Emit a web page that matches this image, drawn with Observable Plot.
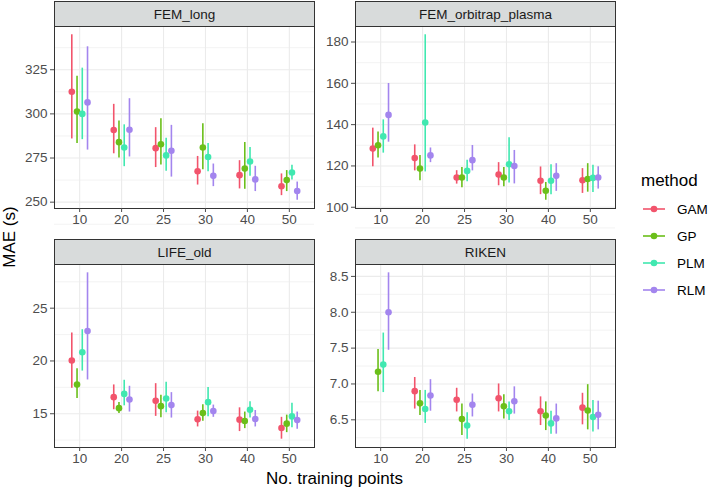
<!DOCTYPE html>
<html>
<head>
<meta charset="utf-8">
<script src="https://cdn.jsdelivr.net/npm/d3@7"></script>
<script src="https://cdn.jsdelivr.net/npm/@observablehq/plot@0.6"></script>
<style>
  html, body { margin: 0; padding: 0; background: #fff; }
  #chart { position: relative; width: 709px; height: 491px; font-family: "Liberation Sans", Arial, sans-serif; overflow: hidden; }
  .abs { position: absolute; }
  .strip { position: absolute; background: #D8DBDB; border: 1px solid #333; box-sizing: border-box; color: #1A1A1A; font-size: 13.5px; display: flex; align-items: center; justify-content: center; }
  .panel svg { overflow: visible; }
</style>
</head>
<body>
<div id="chart"></div>
<script>
// ---------- data ----------
const methods = ["GAM", "GP", "PLM", "RLM"];
const trainingPoints = ["10", "20", "25", "30", "40", "50"];
const colors = ["#F2546C", "#6BBF1A", "#40E8B0", "#A385EE"];

// rows: GAM, GP, PLM, RLM ; columns: trainingPoints
const femLongMean = [
  [312.5, 290.9, 280.6, 267.5, 265.3, 259.0],
  [301.3, 284.0, 282.8, 281.0, 269.0, 262.5],
  [300.0, 281.0, 276.5, 275.6, 273.0, 266.8],
  [306.5, 291.0, 279.1, 264.9, 262.9, 256.3]
];
const femLongLow = [
  [285.8, 277.4, 269.6, 259.7, 257.5, 253.7],
  [283.2, 275.0, 271.1, 268.3, 257.3, 256.0],
  [285.4, 270.1, 267.5, 267.2, 264.7, 262.5],
  [279.5, 275.6, 264.2, 258.8, 256.0, 251.1]
];
const femLongHigh = [
  [344.8, 305.4, 292.2, 275.9, 273.5, 266.0],
  [321.3, 295.9, 297.2, 294.4, 283.8, 267.9],
  [325.9, 293.8, 286.2, 283.2, 281.0, 270.9],
  [338.0, 308.6, 293.5, 271.6, 270.3, 261.4]
];

const femOrbiMean = [
  [128.4, 123.8, 114.4, 115.8, 112.8, 113.1],
  [130.0, 118.7, 114.4, 114.4, 108.0, 113.7],
  [134.3, 141.0, 117.6, 120.8, 112.8, 114.2],
  [144.7, 125.1, 122.8, 120.0, 115.2, 114.4]
];
const femOrbiLow = [
  [119.6, 117.6, 111.2, 110.4, 106.1, 106.7],
  [123.8, 112.8, 109.4, 109.9, 103.4, 107.3],
  [126.2, 117.1, 112.3, 111.7, 106.1, 107.2],
  [131.5, 121.6, 117.6, 111.3, 107.7, 108.8]
];
const femOrbiHigh = [
  [138.3, 130.2, 117.7, 121.6, 119.5, 118.7],
  [136.4, 125.1, 119.3, 119.2, 112.0, 121.1],
  [142.3, 183.5, 122.7, 133.7, 120.6, 120.3],
  [159.9, 128.7, 129.9, 127.5, 121.1, 119.6]
];

const lifeOldMean = [
  [20.05, 16.57, 16.22, 14.47, 14.44, 13.65],
  [17.76, 15.53, 15.72, 15.06, 14.31, 14.06],
  [20.83, 16.88, 16.44, 16.10, 15.38, 14.75],
  [22.84, 16.35, 15.82, 15.25, 14.50, 14.40]
];
const lifeOldLow = [
  [17.41, 15.38, 14.75, 13.75, 13.31, 12.59],
  [16.44, 15.03, 14.62, 14.28, 13.59, 13.21],
  [19.04, 15.75, 15.09, 14.72, 14.59, 13.68],
  [18.20, 15.16, 14.59, 14.66, 13.75, 13.53]
];
const lifeOldHigh = [
  [22.65, 17.73, 17.85, 15.25, 15.56, 14.66],
  [19.26, 16.07, 16.76, 15.85, 15.16, 14.87],
  [22.96, 18.17, 17.98, 17.48, 16.13, 16.00],
  [28.35, 17.60, 17.00, 15.82, 15.31, 15.16]
];

const rikenMean = [
  [null, 6.90, 6.78, 6.80, 6.62, 6.67],
  [7.17, 6.73, 6.51, 6.69, 6.56, 6.63],
  [7.27, 6.65, 6.42, 6.62, 6.45, 6.54],
  [8.00, 6.84, 6.71, 6.76, 6.52, 6.57]
];
const rikenLow = [
  [null, 6.65, 6.61, 6.61, 6.42, 6.43],
  [6.89, 6.56, 6.28, 6.51, 6.35, 6.36],
  [6.88, 6.45, 6.23, 6.49, 6.30, 6.33],
  [7.47, 6.62, 6.54, 6.58, 6.30, 6.36]
];
const rikenHigh = [
  [null, 7.09, 6.94, 7.00, 6.82, 6.87],
  [7.48, 6.91, 6.72, 6.85, 6.75, 6.99],
  [7.71, 6.91, 6.60, 6.75, 6.62, 6.77],
  [8.55, 7.06, 6.86, 6.96, 6.72, 6.76]
];

const panelNames = ["FEM_long", "FEM_orbitrap_plasma", "LIFE_old", "RIKEN"];
const yTicks = [
  [250, 275, 300, 325],
  [100, 120, 140, 160, 180],
  [15, 20, 25],
  [6.5, 7.0, 7.5, 8.0, 8.5]
];
const yTickFormats = [d3.format("d"), d3.format("d"), d3.format("d"), d3.format(".1f")];
const xTitle = "No. training points";
const yTitle = "MAE (s)";
const legendTitle = "method";

// ---------- build ----------
const panelData = [
  [femLongMean, femLongLow, femLongHigh],
  [femOrbiMean, femOrbiLow, femOrbiHigh],
  [lifeOldMean, lifeOldLow, lifeOldHigh],
  [rikenMean, rikenLow, rikenHigh]
];

const chart = document.getElementById("chart");

// panel layout (page pixels)
const cols = [54, 355];
const rows = [{strip: 1, top: 26, bottom: 208}, {strip: 239, top: 264, bottom: 447}];
const panelW = 260;
const dodgeWidth = 0.5;

panelData.forEach(([mean, low, high], p) => {
  const col = p % 2, row = Math.floor(p / 2);
  const left = cols[col];
  const r = rows[row];
  const rows_ = [];
  methods.forEach((m, mi) => {
    trainingPoints.forEach((tp, ti) => {
      if (mean[mi][ti] == null) return;
      rows_.push({
        method: m,
        tp,
        pos: ti + (mi - (methods.length - 1) / 2) * dodgeWidth / methods.length,
        mean: mean[mi][ti],
        lo: low[mi][ti],
        hi: high[mi][ti]
      });
    });
  });
  const ymin = d3.min(rows_, d => d.lo), ymax = d3.max(rows_, d => d.hi);
  const pad = (ymax - ymin) * 0.05;
  const ticks = yTicks[p];
  const step = ticks[1] - ticks[0];
  const minor = [ticks[0] - step / 2, ...ticks.map(t => t + step / 2)];

  const mL = 54, mT = 1, mB = 30, mR = 1;
  const plot = Plot.plot({
    width: panelW + mL + mR,
    height: (r.bottom - r.top) + mT + mB,
    marginLeft: mL, marginRight: mR, marginTop: mT, marginBottom: mB,
    style: {fontFamily: '"Liberation Sans", Arial, sans-serif', background: "transparent"},
    x: {domain: [-0.6, trainingPoints.length - 1 + 0.6], axis: null},
    y: {domain: [ymin - pad, ymax + pad], axis: null},
    color: {domain: methods, range: colors},
    marks: [
      Plot.gridY(minor, {stroke: "#EBEBEB", strokeOpacity: 1, strokeWidth: 0.6}),
      Plot.gridY(ticks, {stroke: "#EBEBEB", strokeOpacity: 1, strokeWidth: 1.1}),
      Plot.gridX(d3.range(trainingPoints.length), {stroke: "#EBEBEB", strokeOpacity: 1, strokeWidth: 1.1}),
      Plot.ruleX(rows_, {x: "pos", y1: "lo", y2: "hi", stroke: "method", strokeWidth: 1.6}),
      Plot.dot(rows_, {x: "pos", y: "mean", fill: "method", r: 3.3}),
      Plot.frame({stroke: "#333", strokeWidth: 1}),
      Plot.axisY(ticks, {tickSize: 4, tickPadding: 3, fontSize: 13.5, color: "#4D4D4D", tickFormat: yTickFormats[p], label: null}),
      Plot.axisX(d3.range(trainingPoints.length), {tickSize: 4, tickPadding: 2, fontSize: 13.5, color: "#4D4D4D", tickFormat: i => trainingPoints[i], label: null})
    ]
  });
  const wrap = document.createElement("div");
  wrap.className = "abs panel";
  wrap.style.left = (left - mL) + "px";
  wrap.style.top = (r.top - mT) + "px";
  wrap.appendChild(plot);
  chart.appendChild(wrap);

  const strip = document.createElement("div");
  strip.className = "strip";
  strip.style.left = left + "px";
  strip.style.top = r.strip + "px";
  strip.style.width = (panelW + 1) + "px";
  strip.style.height = (r.top - r.strip + 1) + "px";
  strip.textContent = panelNames[p];
  chart.appendChild(strip);
});

// axis titles
const xt = document.createElement("div");
xt.className = "abs";
xt.style.cssText = "left:54px;width:561px;top:469px;text-align:center;font-size:17px;color:#000;";
xt.textContent = xTitle;
chart.appendChild(xt);

const yt = document.createElement("div");
yt.className = "abs";
yt.style.cssText = "left:10px;top:237px;font-size:17px;color:#000;transform:translate(-50%,-50%) rotate(-90deg);white-space:nowrap;";
yt.textContent = yTitle;
chart.appendChild(yt);

// legend
const ns = "http://www.w3.org/2000/svg";
const lg = document.createElementNS(ns, "svg");
lg.setAttribute("width", 80);
lg.setAttribute("height", 140);
lg.style.position = "absolute";
lg.style.left = "635px";
lg.style.top = "165px";
lg.style.fontFamily = '"Liberation Sans", Arial, sans-serif';
const lt = document.createElementNS(ns, "text");
lt.setAttribute("x", 6); lt.setAttribute("y", 21);
lt.setAttribute("font-size", 17);
lt.textContent = legendTitle;
lg.appendChild(lt);
methods.forEach((m, i) => {
  const cy = 44 + i * 27;
  const line = document.createElementNS(ns, "line");
  line.setAttribute("x1", 8); line.setAttribute("x2", 30);
  line.setAttribute("y1", cy); line.setAttribute("y2", cy);
  line.setAttribute("stroke", colors[i]); line.setAttribute("stroke-width", 1.6);
  lg.appendChild(line);
  const c = document.createElementNS(ns, "circle");
  c.setAttribute("cx", 19); c.setAttribute("cy", cy); c.setAttribute("r", 3.3);
  c.setAttribute("fill", colors[i]);
  lg.appendChild(c);
  const t = document.createElementNS(ns, "text");
  t.setAttribute("x", 42); t.setAttribute("y", cy + 4.8);
  t.setAttribute("font-size", 13.5);
  t.setAttribute("fill", "#000");
  t.textContent = m;
  lg.appendChild(t);
});
chart.appendChild(lg);
</script>
</body>
</html>
